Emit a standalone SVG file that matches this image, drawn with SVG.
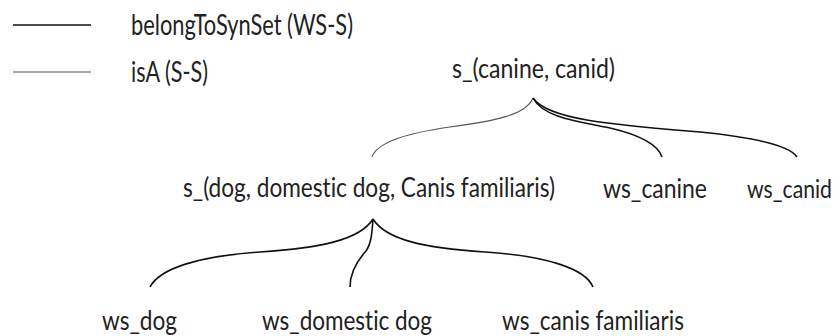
<svg xmlns="http://www.w3.org/2000/svg" width="840" height="336" viewBox="0 0 840 336">
<style>
text{font-family:Lato,"Open Sans","Liberation Sans",sans-serif;fill:#222;font-variant-ligatures:none;}
.n{font-size:26px;}
.lg{font-size:29px;}
.ws{fill:none;stroke:#111;stroke-width:1.6;}
.isa{fill:none;stroke:#555;stroke-width:1.1;}
</style>
<rect width="840" height="336" fill="#fff"/>
<g id="legend">
<line class="ws" x1="13" y1="25" x2="91" y2="25" stroke-width="2"/>
<line class="isa" x1="13" y1="72" x2="91" y2="72"/>
<text class="lg" x="131" y="35" textLength="222" lengthAdjust="spacingAndGlyphs">belongToSynSet (WS-S)</text>
<text class="lg" x="131" y="82" textLength="77" lengthAdjust="spacingAndGlyphs">isA (S-S)</text>
</g>
<g id="connectors">
<path class="isa" d="M533,98 C526,115 495,121 450,127 C400,134 376,145 372,157"/>
<path class="ws" d="M533,98 C543,117 575,121 610,128 C640,135 658,145 662,157"/>
<path class="ws" d="M533,98 C548,120 615,125 700,132 C760,138 790,146 797,157"/>
<path class="ws" d="M373,219 C360,240 320,248 260,252 C200,256 160,268 150,287"/>
<path class="ws" d="M373,219 C386,240 425,248 485,252 C545,256 585,268 593,287"/>
<path class="ws" d="M373,219 C372,234 371,244 366,251 C356,262 350,274 350,287"/>
</g>
<g id="s_canine_canid"><text class="n" x="452" y="78" textLength="163" lengthAdjust="spacingAndGlyphs">s_(canine, canid)</text></g>
<g id="s_dog"><text class="n" x="183" y="197" textLength="372" lengthAdjust="spacingAndGlyphs">s_(dog, domestic dog, Canis familiaris)</text></g>
<g id="ws_canine"><text class="n" x="603" y="198" textLength="104" lengthAdjust="spacingAndGlyphs">ws_canine</text></g>
<g id="ws_canid"><text class="n" transform="translate(747,198) scale(0.85,1)" x="0" y="0" textLength="100" lengthAdjust="spacingAndGlyphs">ws_canid</text></g>
<g id="ws_dog"><text class="n" x="102" y="330" textLength="75" lengthAdjust="spacingAndGlyphs">ws_dog</text></g>
<g id="ws_domestic_dog"><text class="n" x="262" y="330" textLength="170" lengthAdjust="spacingAndGlyphs">ws_domestic dog</text></g>
<g id="ws_canis_familiaris"><text class="n" x="502" y="330" textLength="182" lengthAdjust="spacingAndGlyphs">ws_canis familiaris</text></g>
</svg>
